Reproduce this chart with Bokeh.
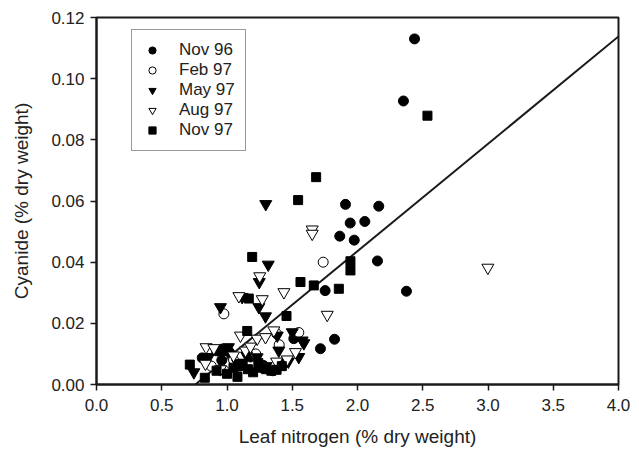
from bokeh.plotting import figure
from bokeh.models import Range1d, FixedTicker, NumeralTickFormatter, Legend, LegendItem
from bokeh.embed import file_html
from bokeh.resources import INLINE

FONT = "Liberation Sans"

# ---- data ----
nov96_x = [2.437, 2.352, 2.375, 1.908, 2.163, 1.944, 2.056, 1.864, 1.975, 2.153, 1.752,
           1.824, 1.716, 1.512, 0.81, 0.96, 1.02, 1.10, 1.18, 1.28, 1.35, 1.45, 0.92]
nov96_y = [0.113, 0.0927, 0.0305, 0.0589, 0.0583, 0.0528, 0.0533, 0.0485, 0.0472, 0.0404, 0.0307,
           0.0148, 0.0117, 0.0150, 0.0087, 0.0079, 0.0105, 0.0060, 0.0090, 0.0062, 0.0045, 0.0072, 0.0110]

feb97_x = [1.737, 0.976, 1.38, 1.55, 0.88, 1.05, 1.22, 1.40, 0.98]
feb97_y = [0.0400, 0.0231, 0.0166, 0.0170, 0.0060, 0.0080, 0.0100, 0.0130, 0.0045]

may97_x = [1.297, 1.316, 1.247, 0.950, 1.116, 1.244, 1.295, 1.385, 1.50, 1.576, 1.397, 0.746,
           1.011, 1.231, 1.589, 0.86, 0.93, 1.08, 1.15, 1.30, 1.47, 1.55, 0.99]
may97_y = [0.0590, 0.0392, 0.0335, 0.0253, 0.0286, 0.0253, 0.0223, 0.0160, 0.0171, 0.0144, 0.0111, 0.0040,
           0.0122, 0.0089, 0.0135, 0.0090, 0.0115, 0.0070, 0.0095, 0.0060, 0.0075, 0.0090, 0.0120]

aug97_x = [2.999, 1.653, 1.653, 1.768, 1.251, 1.436, 1.270, 1.091, 1.103, 1.231, 1.359, 0.840,
           0.899, 1.525, 1.461, 1.142, 1.180, 0.835, 1.295, 0.95, 1.38, 1.26, 1.05]
aug97_y = [0.0382, 0.0507, 0.0493, 0.0228, 0.0354, 0.0302, 0.0279, 0.0289, 0.0160, 0.0150, 0.0177, 0.0122,
           0.0119, 0.0106, 0.0082, 0.0111, 0.0124, 0.0068, 0.0155, 0.0050, 0.0075, 0.0060, 0.0095]

nov97_x = [2.536, 1.683, 1.545, 1.193, 1.946, 1.946, 1.857, 1.665, 1.563, 1.167, 1.456, 1.155,
           0.715, 0.830, 0.97, 1.00, 1.05, 1.08, 1.12, 1.16, 1.20, 1.26, 1.30, 1.34, 1.38, 1.42,
           0.92, 1.24]
nov97_y = [0.0879, 0.0678, 0.0603, 0.0417, 0.0403, 0.0373, 0.0313, 0.0324, 0.0335, 0.0281, 0.0224, 0.0175,
           0.0065, 0.0022, 0.0110, 0.0035, 0.0055, 0.0025, 0.0068, 0.0050, 0.0040, 0.0055, 0.0050, 0.0045,
           0.0048, 0.0060, 0.0045, 0.0070]

reg_slope = 0.0351
reg_intercept = -0.0266

x_ticks = [0.0, 0.5, 1.0, 1.5, 2.0, 2.5, 3.0, 3.5, 4.0]
y_ticks = [0.00, 0.02, 0.04, 0.06, 0.08, 0.10, 0.12]
series_labels = ["Nov 96", "Feb 97", "May 97", "Aug 97", "Nov 97"]

# ---- figure ----
p = figure(width=639, height=453, output_backend="svg", toolbar_location=None,
           x_range=Range1d(0, 4), y_range=Range1d(0, 0.12),
           min_border_left=96, min_border_right=21, min_border_top=17, min_border_bottom=69)
p.background_fill_color = "white"
p.border_fill_color = "white"
p.outline_line_color = "#1a1a1a"
p.outline_line_width = 2
p.xgrid.visible = False
p.ygrid.visible = False

for ax in (p.xaxis[0], p.yaxis[0]):
    ax.axis_line_color = "#1a1a1a"
    ax.axis_line_width = 2
    ax.major_tick_line_color = "#1a1a1a"
    ax.major_tick_line_width = 1.5
    ax.major_tick_out = 6
    ax.major_tick_in = 0
    ax.minor_tick_line_color = None
    ax.major_label_text_font = FONT
    ax.major_label_text_font_size = "17px"
    ax.major_label_text_color = "#222222"
    ax.axis_label_text_font = FONT
    ax.axis_label_text_font_size = "19px"
    ax.axis_label_text_font_style = "normal"
    ax.axis_label_text_color = "#222222"

p.xaxis.ticker = FixedTicker(ticks=x_ticks)
p.yaxis.ticker = FixedTicker(ticks=y_ticks)
p.xaxis.formatter = NumeralTickFormatter(format="0.0")
p.yaxis.formatter = NumeralTickFormatter(format="0.00")
p.xaxis.axis_label = "Leaf nitrogen (% dry weight)"
p.yaxis.axis_label = "Cyanide (% dry weight)"
p.xaxis.major_label_standoff = 8
p.yaxis.major_label_standoff = 6
p.xaxis.axis_label_standoff = 12
p.yaxis.axis_label_standoff = 16

# regression line
x0 = -reg_intercept / reg_slope
x1 = 4.0
p.line([x0, x1], [reg_slope * x0 + reg_intercept, reg_slope * x1 + reg_intercept],
       line_color="#1a1a1a", line_width=2)

r1 = p.scatter(nov96_x, nov96_y, marker="circle", size=10, fill_color="black", line_color="black")
r2 = p.scatter(feb97_x, feb97_y, marker="circle", size=10, fill_color="white", line_color="black", line_width=1)
r3 = p.scatter(may97_x, may97_y, marker="inverted_triangle", size=12, fill_color="black", line_color="black")
r4 = p.scatter(aug97_x, aug97_y, marker="inverted_triangle", size=12, fill_color="white", line_color="black", line_width=1)
r5 = p.scatter(nov97_x, nov97_y, marker="square", size=9, fill_color="black", line_color="black")

legend = Legend(items=[LegendItem(label=lab, renderers=[r]) for lab, r in
                       zip(series_labels, [r1, r2, r3, r4, r5])],
                location=(35, 233))
legend.label_text_font = FONT
legend.label_text_font_size = "17px"
legend.label_text_color = "#222222"
legend.border_line_color = "#333333"
legend.border_line_width = 1
legend.background_fill_color = "white"
legend.background_fill_alpha = 1
legend.padding = 10
legend.spacing = 0
legend.margin = 0
legend.glyph_width = 20
legend.glyph_height = 18
legend.label_height = 18
legend.label_standoff = 17
p.add_layout(legend, "center")

open("out.html", "w").write(file_html(p, INLINE))
